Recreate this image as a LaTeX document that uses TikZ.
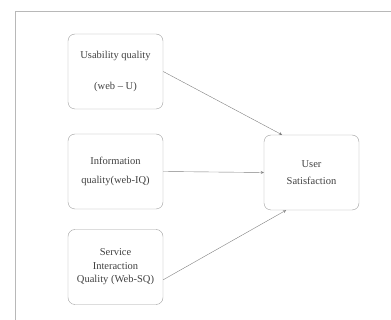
\documentclass[tikz,border=0pt]{standalone}
\usepackage{fontspec}
\setmainfont{Liberation Serif}
\definecolor{framegray}{gray}{0.72}
\definecolor{boxgray}{gray}{0.62}
\definecolor{linegray}{gray}{0.5}
\definecolor{textgray}{gray}{0.25}
\tikzset{
  factor/.style={draw=boxgray, rounded corners=7pt, minimum width=95pt,
    minimum height=75pt, align=center, text=textgray,
    font=\fontsize{10.5}{12.6}\selectfont},
  link/.style={->, >=stealth, draw=linegray}
}
\begin{document}
\begin{tikzpicture}[x=1pt, y=-1pt]
\useasboundingbox (0,0) rectangle (391,320);
\draw[framegray] (15,320) -- (15,11) -- (391,11); % outer frame

\node[factor] (usab) at (115.5,71.5) {Usability quality\\[18pt](web -- U)};
\node[factor] (info) at (115.5,171.5) {Information\\[6pt]quality(web-IQ)};
\node[factor] (serv) at (115.5,267) {Service\\[1pt]Interaction\\[1pt]Quality (Web-SQ)};
\node[factor] (user) at (311.5,172.5) {User\\[4pt]Satisfaction};

% links into satisfaction
\draw[link] (usab.east) -- (user.128);
\draw[link] (info.east) -- (user.west);
\draw[link] (serv.-15) -- (user.236);
\end{tikzpicture}
\end{document}
